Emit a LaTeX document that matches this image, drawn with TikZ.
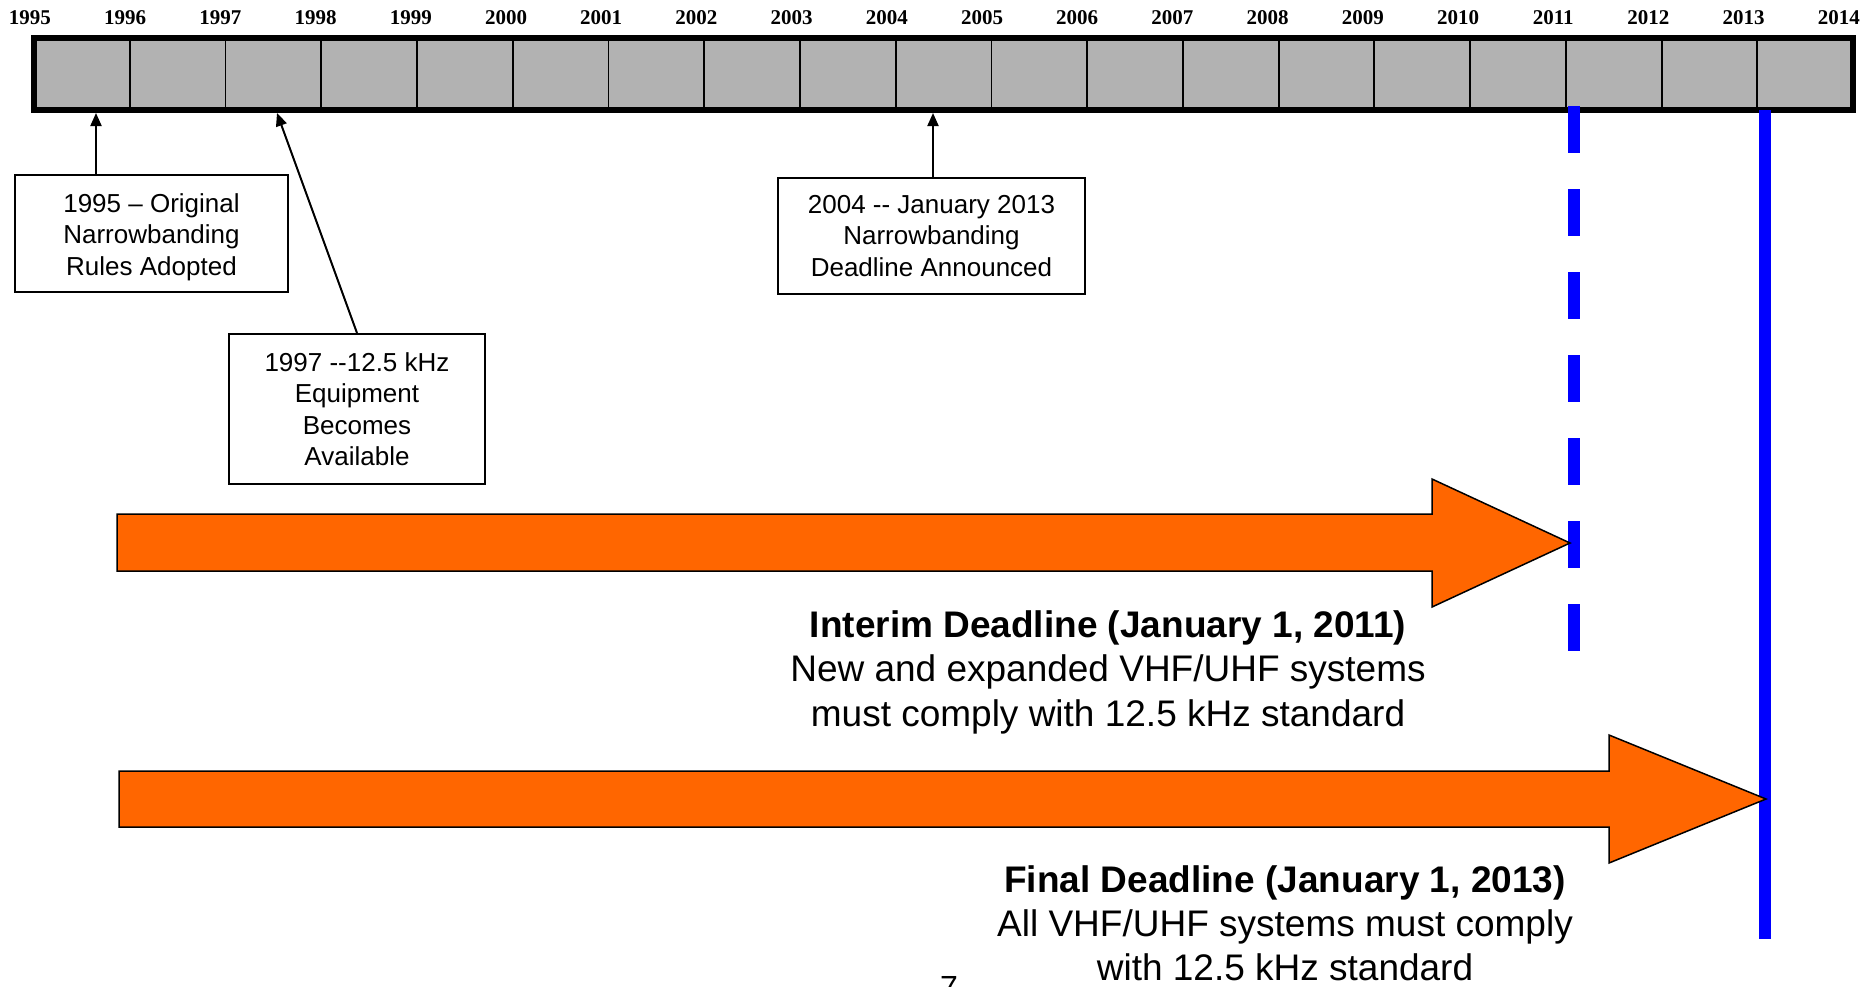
\documentclass[tikz,border=0pt]{standalone}
\usepackage{fontspec}
\setmainfont{Liberation Sans}
\newfontfamily\yearfont{Liberation Serif}
\usetikzlibrary{arrows.meta,calc}
\definecolor{rBar}{RGB}{178,178,178}
\definecolor{rOrange}{RGB}{255,102,0}
\definecolor{rBlue}{RGB}{0,0,255}

\begin{document}
\begin{tikzpicture}[
	x=1pt, y=-1pt,
	>={Triangle[length=13pt,width=11pt]},
	yr/.style={font=\yearfont\bfseries\fontsize{21}{21}\selectfont, inner sep=0pt},
	cell/.style={draw=black, line width=1.8pt, fill=rBar},
	ev/.style={draw=black, line width=2pt, align=center, inner sep=0pt,
		font=\fontsize{26}{31.5}\selectfont},
	tip/.style={->, line width=2pt},
	blk/.style={draw=black, fill=rOrange, line width=1.5pt, line join=miter},
	note/.style={align=center, inner sep=0pt, anchor=base, font=\fontsize{37}{44.5}\selectfont}
	]
	\clip (0,0) rectangle (1868,986);
	\fill[white] (0,0) rectangle (1868,986);

	\foreach \k in {0,...,19}{
		\pgfmathtruncatemacro\yy{1995+\k}
		\node[yr] (y\yy) at (30+95.2*\k,17.5) {\yy};
	}
	\foreach \k in {0,...,18}
	\draw[cell] (34+95.74*\k,38) rectangle ++(95.74,72);
	\node[draw, line width=5.5pt, minimum width=1819pt, minimum height=72pt,
		inner sep=0pt] (bar) at (943.5,74) {};

	\coordinate (m95) at (96,113);
	\coordinate (m97) at (277,113);
	\coordinate (m04) at (933,113);

	\node[ev, minimum width=273pt, minimum height=117pt] (box1) at (151.5,233.5)
		{\rule{0pt}{26pt}1995 \textendash{} Original\\Narrowbanding\\Rules Adopted};
	\node[ev, minimum width=256pt, minimum height=150pt] (box2) at (357,409)
		{1997 -{}-12.5 kHz\\Equipment\\Becomes\\Available};
	\node[ev, minimum width=307pt, minimum height=116pt] (box3) at (931.5,236)
		{2004 -{}- January 2013\\Narrowbanding\\Deadline Announced};

	\draw[tip] (box1.north -| m95) -- (m95);
	\draw[tip] (box2.north) -- (m97);
	\draw[tip] (box3.north -| m04) -- (m04);

	\draw[rBlue, line width=12pt, dash pattern=on 47pt off 36pt] (1574,106) -- (1574,652);
	\draw[rBlue, line width=12pt] (1765,110) -- (1765,939);

	\draw[blk] (117,514) -- (1432,514) -- (1432,479) -- (1570,543)
		-- (1432,607) -- (1432,571) -- (117,571) -- cycle;
	\draw[blk] (119,771) -- (1609,771) -- (1609,735) -- (1766,799)
		-- (1609,863) -- (1609,827) -- (119,827) -- cycle;

	\node[note] (interim) at (1108,726)
		{\textbf{Interim Deadline (January 1, 2011)}\\New and expanded VHF/UHF systems\\must comply with 12.5 kHz standard};
	\node[note, font=\fontsize{37}{44}\selectfont] (final) at (1285,980)
		{\textbf{Final Deadline (January 1, 2013)}\\All VHF/UHF systems must comply\\with 12.5 kHz standard};

	\node[font=\fontsize{32}{32}\selectfont, inner sep=0pt, anchor=base] (pgno) at (949,998) {7};
\end{tikzpicture}
\end{document}
